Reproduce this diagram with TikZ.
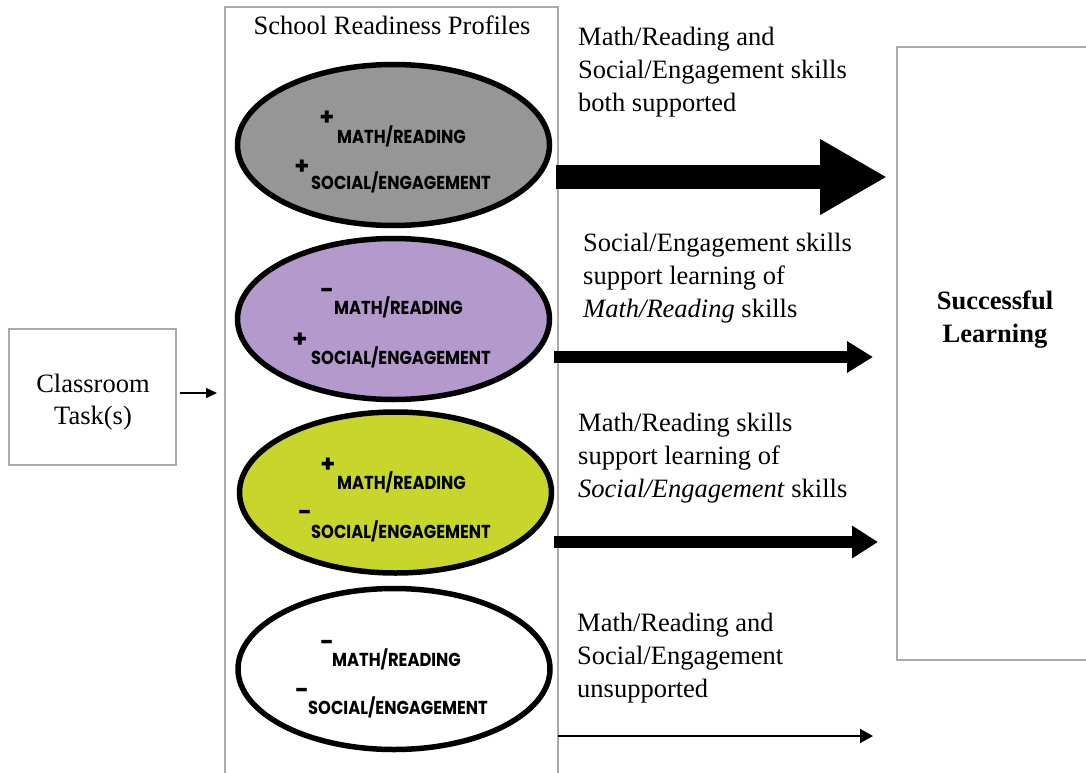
\documentclass[tikz,border=0pt]{standalone}
\usepackage{fontspec}
\usepackage{graphicx}
\setmainfont{Liberation Serif}
\newfontfamily\gothic{Poppins}
\usetikzlibrary{shapes.geometric,arrows.meta}
\definecolor{profgray}{RGB}{150,150,150}
\definecolor{profpurple}{RGB}{179,153,204}
\definecolor{proflime}{RGB}{200,214,44}
\definecolor{boxline}{RGB}{170,170,170}
\newcommand\skilltext[1]{\scalebox{1}[1.15]{#1}}
\begin{document}
\begin{tikzpicture}[x=1pt,y=-1pt,
  serif/.style={font=\fontsize{26.5}{33}\selectfont, inner sep=0pt, align=left},
  graybox/.style={draw=boxline, line width=1.5pt, rectangle, inner sep=0pt},
  profile/.style={ellipse, draw=black, line width=5.5pt, minimum width=312pt, minimum height=161pt, inner sep=0pt},
  skill/.style={font=\gothic\bfseries\fontsize{16.3}{16}\selectfont, inner sep=0pt, anchor=base west},
  sign/.style={font=\gothic\bfseries\fontsize{24}{24}\selectfont, inner sep=0pt},
]
\useasboundingbox (0,0) rectangle (1086,773);
\fill[white] (0,0) rectangle (1086,773);

% boxes
\node[graybox, minimum width=167pt, minimum height=136pt] (task) at (92.5,397) {};
\node[font=\fontsize{26.5}{32}\selectfont, align=center, inner sep=0pt, anchor=base] (taskt) at (93,424) {Classroom\\Task(s)};
\node[graybox, minimum width=333pt, minimum height=790pt] (prof) at (391.5,402) {};
\node[graybox, minimum width=200pt, minimum height=613pt] (succ) at (997,353.5) {};
\node[font=\bfseries\fontsize{26.5}{33}\selectfont, align=center, inner sep=0pt, anchor=base] (succt) at (995,342) {Successful\\Learning};

\node[serif, anchor=base] (title) at (392,35) {School Readiness Profiles};

% profiles
\node[profile, fill=profgray] (e1) at (393.5,145) {};
\node[profile, fill=profpurple] (e2) at (393.5,319) {};
\node[profile, fill=proflime] (e3) at (395.5,492.5) {};
\node[profile, fill=white] (e4) at (394,669) {};

\node[skill] (e1m) at (337,143) {\skilltext{MATH/READING}};
\node[skill] (e1s) at (311,189) {\skilltext{SOCIAL/ENGAGEMENT}};
\node[sign] (e1pm) at (327,118) {+};
\node[sign] (e1ps) at (302,167) {+};

\node[skill] (e2m) at (334,314) {\skilltext{MATH/READING}};
\node[skill] (e2s) at (311,364) {\skilltext{SOCIAL/ENGAGEMENT}};
\node[sign] (e2pm) at (327,293) {-};
\node[sign] (e2ps) at (300,340) {+};

\node[skill] (e3m) at (337,489) {\skilltext{MATH/READING}};
\node[skill] (e3s) at (311,538) {\skilltext{SOCIAL/ENGAGEMENT}};
\node[sign] (e3pm) at (328,465) {+};
\node[sign] (e3ps) at (305,515) {-};

\node[skill] (e4m) at (332,666) {\skilltext{MATH/READING}};
\node[skill] (e4s) at (308,714) {\skilltext{SOCIAL/ENGAGEMENT}};
\node[sign] (e4pm) at (327,645) {-};
\node[sign] (e4ps) at (302,693) {-};

% right-hand texts (base = last line)
\node[serif, anchor=base west] (t1) at (578,112) {Math/Reading and\\Social/Engagement skills\\both supported};
\node[serif, anchor=base west] (t2) at (583,317) {Social/Engagement skills\\support learning of\\\textit{Math/Reading} skills};
\node[serif, anchor=base west] (t3) at (578,497) {Math/Reading skills\\support learning of\\\textit{Social/Engagement} skills};
\node[serif, anchor=base west] (t4) at (577,697) {Math/Reading and\\Social/Engagement\\unsupported};

% arrows
\coordinate (a0s) at (180,393);
\coordinate (a0e) at (217,393);
\coordinate (a1s) at (556,177);
\coordinate (a1e) at (887,177);
\coordinate (a2s) at (554,357);
\coordinate (a2e) at (873,357);
\coordinate (a3s) at (554,542);
\coordinate (a3e) at (878,542);
\coordinate (a4s) at (558,736);
\coordinate (a4e) at (873,736);

\draw[line width=1.3pt, -{Triangle[length=11pt,width=10pt]}] (a0s) -- (a0e);
\draw[line width=24pt, -{Triangle[length=67pt,width=71pt]}] (a1s) -- (a1e);
\draw[line width=11.5pt, -{Triangle[length=26pt,width=30pt]}] (a2s) -- (a2e);
\draw[line width=12pt, -{Triangle[length=26pt,width=31pt]}] (a3s) -- (a3e);
\draw[line width=2pt, -{Triangle[length=13pt,width=14pt]}] (a4s) -- (a4e);
\end{tikzpicture}
\end{document}
